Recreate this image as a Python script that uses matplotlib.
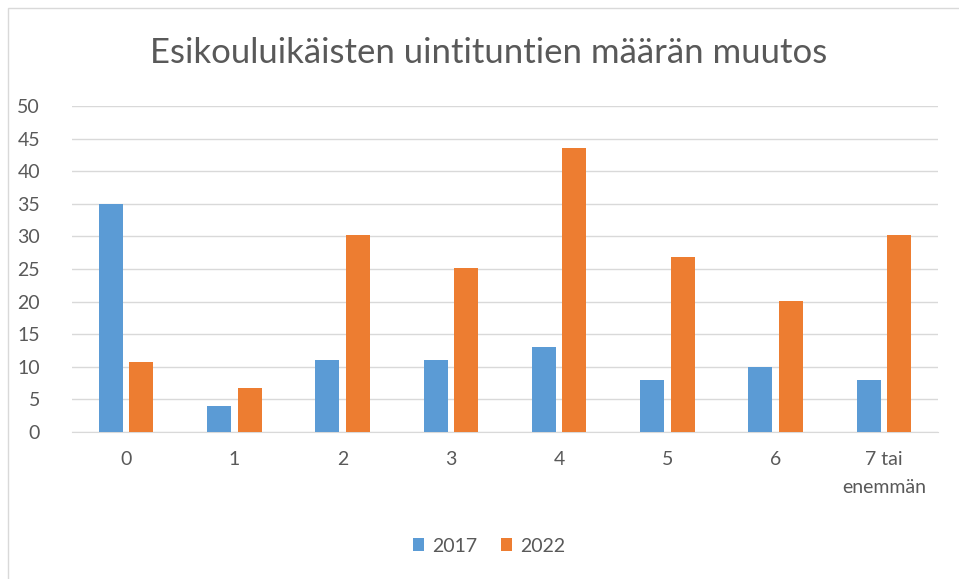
import numpy as np
import matplotlib
matplotlib.use('Agg')
from matplotlib import pyplot as plt
from matplotlib.patches import Rectangle

kategoriat = ['0', '1', '2', '3', '4', '5', '6', '7 tai\nenemmän']
v2017 = [35, 4, 11, 11, 13, 8, 10, 8]
v2022 = [10.8, 6.7, 30.2, 25.2, 43.6, 26.8, 20.1, 30.2]
sarjat = ['2017', '2022']

plt.rcParams['font.family'] = ['Lato', 'DejaVu Sans']
harmaa = '#595959'

fig = plt.figure(figsize=(9.59, 5.79), dpi=100)
ax = fig.add_axes([72/959, 1-432/579, (938-72)/959, (432-106)/579])

# kehys kuvan ympärillä
fig.patches.append(Rectangle((8/959, -0.1), 1.2, 1-8/579+0.1, transform=fig.transFigure,
                             fill=False, edgecolor='#D9D9D9', lw=1))

x = np.arange(len(kategoriat))
w = 0.222
ax.bar(x - 0.14, v2017, w, color='#5B9BD5', label=sarjat[0], zorder=3)
ax.bar(x + 0.14, v2022, w, color='#ED7D31', label=sarjat[1], zorder=3)

ax.set_xlim(-0.5, len(kategoriat) - 0.5)
ax.set_ylim(0, 50)
ax.set_yticks(range(0, 51, 5))
ax.yaxis.grid(True, color='#D9D9D9', lw=1, zorder=0)
for s in ['top', 'right', 'left']:
    ax.spines[s].set_visible(False)
ax.spines['bottom'].set_color('#D9D9D9')
ax.tick_params(axis='both', length=0, labelsize=14, colors=harmaa)
ax.tick_params(axis='y', pad=23)
ax.tick_params(axis='x', pad=14)
ax.set_xticks(x)
ax.set_xticklabels(kategoriat, linespacing=1.75, va='top')

fig.text(489/959, 1-53/579, 'Esikouluikäisten uintituntien määrän muutos',
         ha='center', va='center', fontsize=25, color=harmaa)

fig.legend(loc='center', bbox_to_anchor=(489/959, 1-546/579), ncol=2, frameon=False,
           fontsize=14, labelcolor=harmaa, handlelength=0.6, handleheight=0.6,
           columnspacing=1.2, handletextpad=0.4)

plt.savefig('out.png', dpi=100)
